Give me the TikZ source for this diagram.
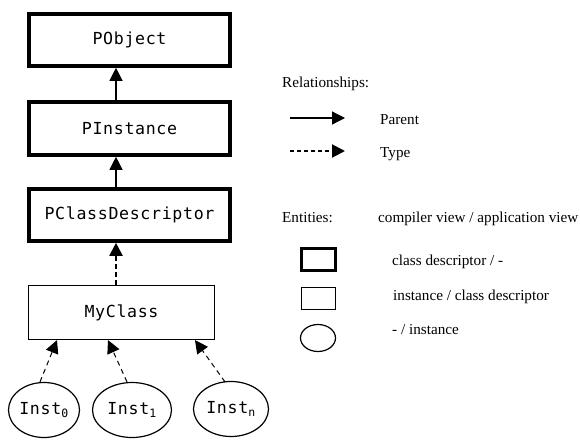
\documentclass[tikz,border=0pt]{standalone}
\usepackage{fontspec}
\setmainfont{Liberation Serif}
\newfontfamily\boxfont[LetterSpace=4]{DejaVu Sans Mono}
\usetikzlibrary{arrows.meta,shapes.geometric,calc}
\begin{document}
\begin{tikzpicture}[x=1pt,y=-1pt,
  thickbox/.style={draw,line width=3.6pt,minimum width=201pt,minimum height=52pt,inner sep=0pt,font=\boxfont\fontsize{16.6}{18}\selectfont},
  thinbox/.style={draw,line width=1.2pt,minimum width=186pt,minimum height=54pt,inner sep=0pt,font=\boxfont\fontsize{16.6}{18}\selectfont},
  inst/.style={draw,ellipse,line width=1.2pt,minimum height=55pt,inner sep=0pt,font=\boxfont\fontsize{16.6}{18}\selectfont},
  parentarr/.style={line width=1.2pt,-{Triangle[length=13pt,width=13pt]}},
  typearr/.style={line width=2pt,dash pattern=on 5pt off 3pt,-{Triangle[length=13pt,width=13pt]}},
  instarr/.style={line width=1pt,dash pattern=on 5pt off 4pt,-{Triangle[length=13pt,width=13pt]}},
  lbl/.style={anchor=base west,inner sep=0pt,font=\fontsize{15.2}{17}\selectfont}]
\useasboundingbox (0,0) rectangle (580,439);
\fill[white] (0,0) rectangle (580,439);
% main column
\node[thickbox] (po) at (129.5,40) {PObject};
\node[thickbox,minimum height=53pt] (pi) at (129.5,128.5) {PInstance};
\node[thickbox] (pcd) at (129.5,215) {PClassDescriptor};
\node[thinbox] (mc) at (121.5,312.5) {MyClass};
\node[inst,minimum width=71pt] (i0) at (44,410) {Inst$_{\mbox{\boxfont\fontsize{11.5}{12}\selectfont 0}}$};
\node[inst,minimum width=79pt] (i1) at (132,410) {Inst$_{\mbox{\boxfont\fontsize{11.5}{12}\selectfont 1}}$};
\node[inst,minimum width=75pt] (in) at (231,409) {Inst$_{\mbox{\boxfont\fontsize{11.5}{12}\selectfont n}}$};
\coordinate (ax) at (116,0);
\draw[parentarr] (pi.north -| ax) -- (po.south -| ax);
\draw[parentarr] (pcd.north -| ax) -- (pi.south -| ax);
\draw[typearr] (mc.north -| ax) -- (pcd.south -| ax);
\coordinate (e0) at (57,0);
\coordinate (e1) at (108,0);
\coordinate (en) at (195,0);
\draw[instarr] ($(i0.north)+(-4,0)$) -- (mc.south -| e0);
\draw[instarr] ($(i1.north)+(-5,0)$) -- (mc.south -| e1);
\draw[instarr] ($(in.north)+(-6,1)$) -- (mc.south -| en);
% legend: relationships
\node[lbl] (rel) at (282,87) {Relationships:};
\coordinate (sa) at (290,118);
\coordinate (sb) at (345,118);
\draw[parentarr] (sa) -- (sb);
\node[lbl] (par) at (380,124) {Parent};
\coordinate (da) at (290,151);
\coordinate (db) at (345,151);
\draw[typearr,dash pattern=on 4pt off 3pt] (da) -- (db);
\node[lbl] (typ) at (380,157) {Type};
% legend: entities
\node[lbl] (ent) at (282,222) {Entities:};
\node[lbl] (cv) at (378,222) {compiler view / application view};
\node[draw,line width=3pt,minimum width=34pt,minimum height=22pt,inner sep=0pt] (lb1) at (318.5,259.5) {};
\node[lbl] (t1) at (392,265) {class descriptor / -};
\node[draw,line width=1.2pt,minimum width=34pt,minimum height=22pt,inner sep=0pt] (lb2) at (318.5,298.5) {};
\node[lbl] (t2) at (393,300) {instance / class descriptor};
\node[draw,ellipse,line width=1.2pt,minimum width=35pt,minimum height=27pt,inner sep=0pt] (le) at (318,338) {};
\node[lbl] (t3) at (392,334) {- / instance};
\end{tikzpicture}
\end{document}
